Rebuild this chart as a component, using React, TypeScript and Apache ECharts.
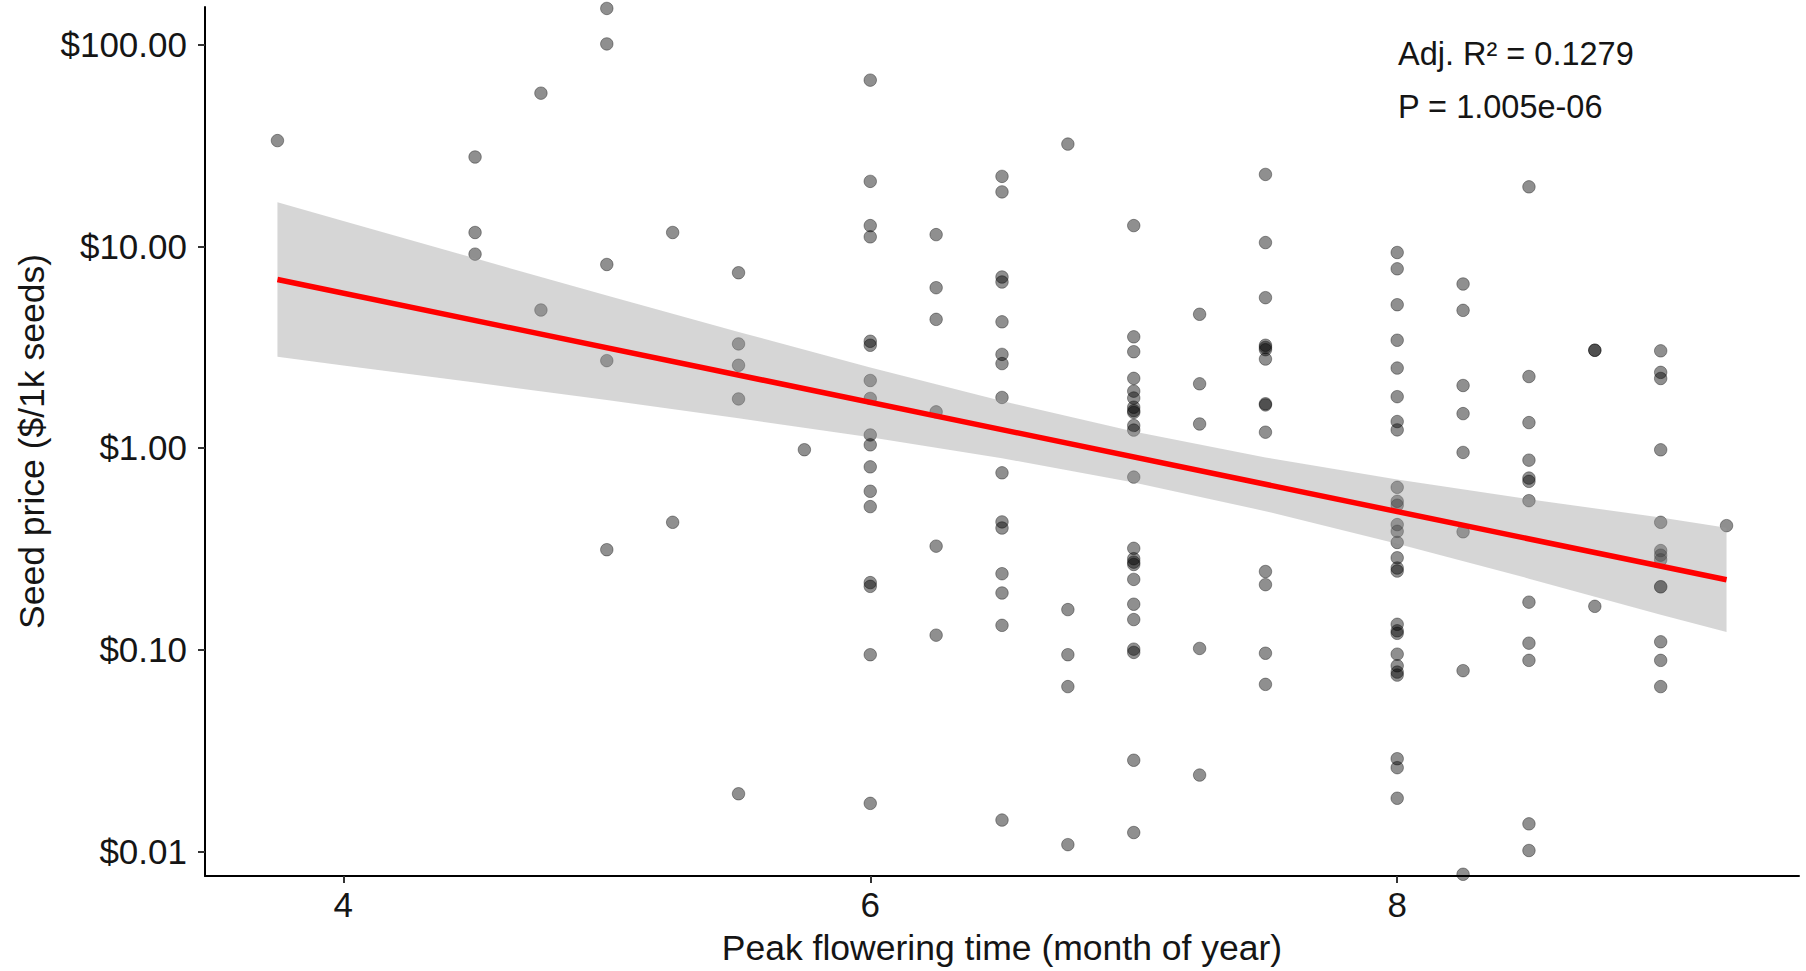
import React, { useEffect, useRef } from 'react';
import * as echarts from 'echarts';

// ---- axis setup ----
const xTicks = [4, 6, 8];
const yTicks = [0.01, 0.1, 1, 10, 100];
const xMin = 3.475;
const xMax = 9.525;
const yMin = 0.00755;
const yMax = 153.5;

const xTitle = 'Peak flowering time (month of year)';
const yTitle = 'Seed price ($/1k seeds)';
const statLines = ['Adj. R\u00b2 = 0.1279', 'P = 1.005e-06'];

// ---- seed prices ($/1k seeds) per peak flowering month ----
const p3_75 = [33.4];
const p4_50 = [27.7, 11.7, 9.14];
const p4_75 = [57.4, 4.83];
const p5_00 = [151, 100.7, 8.12, 2.71, 0.313];
const p5_25 = [11.7, 0.428];
const p5_50 = [7.39, 3.28, 2.57, 1.75, 0.0193];
const p5_75 = [0.98];
const p6_00 = [66.6, 20.97, 12.66, 11.13, 3.38, 3.23, 2.16, 1.76, 1.16, 1.036, 0.806, 0.61, 0.512, 0.215, 0.206, 0.0944, 0.0173];
const p6_25 = [11.42, 6.23, 4.34, 1.51, 0.326, 0.118];
const p6_50 = [22.2, 18.6, 7.04, 6.65, 4.22, 2.91, 2.62, 1.78, 0.753, 0.43, 0.401, 0.238, 0.191, 0.132, 0.0143];
const p6_75 = [32.1, 0.158, 0.0944, 0.0656, 0.0108];
const p7_00 = [12.66, 3.556, 3.0, 2.213, 1.912, 1.768, 1.592, 1.53, 1.5, 1.292, 1.226, 0.717, 0.318, 0.2825, 0.2716, 0.2644, 0.223, 0.168, 0.141, 0.1006, 0.0969, 0.0283, 0.0124];
const p7_25 = [4.6, 2.08, 1.315, 0.1014, 0.0239];
const p7_50 = [22.7, 10.43, 5.56, 3.23, 3.15, 3.07, 2.76, 1.656, 1.634, 1.197, 0.244, 0.21, 0.096, 0.0673];
const p8_00 = [9.31, 7.73, 5.13, 3.42, 2.49, 1.796, 1.352, 1.229, 0.638, 0.544, 0.52, 0.417, 0.386, 0.34, 0.2855, 0.254, 0.2454, 0.1336, 0.124, 0.1205, 0.095, 0.0832, 0.0774, 0.0748, 0.0288, 0.026, 0.01834];
const p8_25 = [6.5, 4.81, 2.04, 1.48, 0.95, 0.384, 0.0787, 0.0077];
const p8_50 = [19.7, 2.26, 1.336, 0.87, 0.709, 0.683, 0.548, 0.172, 0.1077, 0.0885, 0.01369, 0.0101];
const p8_75 = [3.05, 3.05, 0.164];
const p9_00 = [3.03, 2.37, 2.21, 0.979, 0.428, 0.31, 0.294, 0.279, 0.205, 0.205, 0.1094, 0.0885, 0.0656];
const p9_25 = [0.412];

const priceColumns: [number, number[]][] = [
  [3.75, p3_75], [4.5, p4_50], [4.75, p4_75], [5.0, p5_00], [5.25, p5_25],
  [5.5, p5_50], [5.75, p5_75], [6.0, p6_00], [6.25, p6_25], [6.5, p6_50],
  [6.75, p6_75], [7.0, p7_00], [7.25, p7_25], [7.5, p7_50], [8.0, p8_00],
  [8.25, p8_25], [8.5, p8_50], [8.75, p8_75], [9.0, p9_00], [9.25, p9_25],
];

// ---- fitted line and its confidence band ----
const fitX = [3.75, 9.25];
const fitY = [6.84, 0.222];
const bandX = [3.75, 4.0, 4.5, 5.0, 5.5, 6.0, 6.5, 7.0, 7.5, 8.0, 8.5, 9.0, 9.25];
const bandUpper = [16.52, 13.34, 8.71, 5.7, 3.76, 2.506, 1.709, 1.208, 0.897, 0.697, 0.557, 0.452, 0.402];
const bandLower = [2.831, 2.566, 2.109, 1.729, 1.403, 1.13, 0.889, 0.674, 0.486, 0.335, 0.225, 0.149, 0.1225];

const FONT = '"Liberation Sans", Arial, Helvetica, sans-serif';
const TEXT = '#151515';

export default function App() {
  const ref = useRef<HTMLDivElement>(null);

  useEffect(() => {
    if (!ref.current) return;
    const chart = echarts.init(ref.current, undefined, { renderer: 'svg' });

    const points: number[][] = [];
    priceColumns.forEach(([m, vals]) => vals.forEach((v) => points.push([m, v])));

    const option: any = {
      animation: false,
      backgroundColor: '#ffffff',
      grid: { left: 205, right: 7, top: 7, bottom: 92, containLabel: false },
      xAxis: {
        type: 'value',
        min: xMin,
        max: xMax,
        name: xTitle,
        nameLocation: 'middle',
        nameGap: 54,
        nameTextStyle: { fontSize: 35.5, color: TEXT, fontFamily: FONT },
        axisLine: { show: true, onZero: false, lineStyle: { color: '#000', width: 2 } },
        axisTick: { show: true, length: 7, customValues: xTicks, lineStyle: { color: '#333', width: 2 } },
        axisLabel: { customValues: xTicks, fontSize: 35, color: TEXT, fontFamily: FONT, margin: 11 },
        splitLine: { show: false },
      },
      yAxis: {
        type: 'log',
        logBase: 10,
        min: yMin,
        max: yMax,
        name: yTitle,
        nameLocation: 'middle',
        nameGap: 154,
        nameTextStyle: { fontSize: 35.5, color: TEXT, fontFamily: FONT },
        axisLine: { show: true, onZero: false, lineStyle: { color: '#000', width: 2 } },
        axisTick: { show: true, length: 7, customValues: yTicks, lineStyle: { color: '#333', width: 2 } },
        axisLabel: {
          customValues: yTicks,
          fontSize: 35,
          color: TEXT,
          fontFamily: FONT,
          margin: 18,
          formatter: (v: number) => '$' + Number(v).toFixed(2),
        },
        splitLine: { show: false },
      },
      series: [
        {
          type: 'scatter',
          data: points,
          symbol: 'circle',
          symbolSize: 12.5,
          z: 2,
          itemStyle: {
            color: 'rgba(0,0,0,0.55)',
            borderColor: 'rgba(0,0,0,0.45)',
            borderWidth: 1,
          },
        },
        {
          type: 'custom',
          z: 3,
          silent: true,
          clip: true,
          data: [[bandX[0], bandUpper[0]]],
          renderItem: (_params: any, api: any) => {
            const pts: number[][] = [];
            for (let i = 0; i < bandX.length; i++) pts.push(api.coord([bandX[i], bandUpper[i]]));
            for (let i = bandX.length - 1; i >= 0; i--) pts.push(api.coord([bandX[i], bandLower[i]]));
            return {
              type: 'polygon',
              shape: { points: pts },
              style: { fill: 'rgba(153,153,153,0.4)', stroke: 'none' },
            };
          },
        },
        {
          type: 'line',
          data: fitX.map((x, i) => [x, fitY[i]]),
          showSymbol: false,
          symbol: 'none',
          z: 4,
          lineStyle: { color: '#ff0000', width: 5.5 },
        },
      ],
      graphic: statLines.map((t, i) => ({
        type: 'text',
        x: 1398,
        y: 54 + i * 53,
        z: 10,
        style: {
          text: t,
          fontSize: 32.5,
          fontFamily: FONT,
          fill: TEXT,
          align: 'left',
          verticalAlign: 'middle',
        },
      })),
    };

    chart.setOption(option);
    return () => chart.dispose();
  }, []);

  return (
    <div
      ref={ref}
      style={{ position: 'fixed', left: 0, top: 0, width: 1806, height: 971, background: '#fff' }}
    />
  );
}
